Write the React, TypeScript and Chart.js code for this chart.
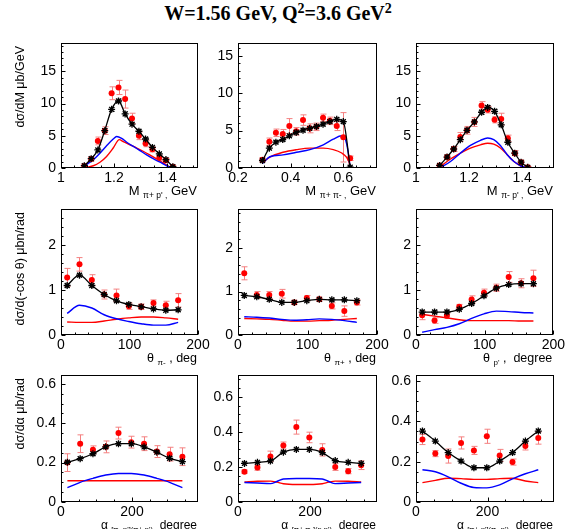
import React, { useEffect, useRef } from "react";
import { Chart, registerables } from "chart.js";
Chart.register(...registerables);

const W = 567;
const H = 529;

// ---------------- DATA ----------------
// Row 1: invariant mass distributions (GeV)
const p1Bins = [1.088, 1.114, 1.139, 1.165, 1.191, 1.217, 1.242, 1.268, 1.294, 1.319, 1.345, 1.371, 1.396, 1.422];
const p1Data = [0.3, 1.4, 4.2, 5.8, 11.6, 12.5, 10.7, 7.7, 5.0, 3.8, 2.9, 1.6, 1.2, 0.2];
const p1DataErr = [0.2, 0.3, 0.6, 0.6, 1.0, 1.1, 1.4, 0.8, 0.6, 0.5, 0.4, 0.4, 0.3, 0.1];
const p1Model = [0.36, 1.44, 2.8, 5.8, 9.1, 10.4, 8.4, 6.8, 5.7, 4.5, 3.2, 2.2, 1.3, 0.2];
const p1ModelErr = [0.1, 0.2, 0.2, 0.3, 0.3, 0.3, 0.3, 0.25, 0.25, 0.2, 0.2, 0.2, 0.15, 0.1];
const p1BlueX = [1.085, 1.122, 1.147, 1.172, 1.197, 1.21, 1.229, 1.248, 1.273, 1.298, 1.323, 1.348, 1.374, 1.399, 1.42];
const p1BlueY = [0.2, 1.3, 2.3, 3.45, 4.5, 4.9, 4.6, 4.0, 3.35, 2.7, 2.05, 1.45, 0.9, 0.35, 0];
const p1RedX = [1.085, 1.122, 1.147, 1.172, 1.197, 1.22, 1.235, 1.26, 1.286, 1.31, 1.336, 1.361, 1.386, 1.411, 1.42];
const p1RedY = [0, 0.35, 0.9, 1.8, 3.1, 4.4, 4.1, 3.6, 3.1, 2.6, 2.0, 1.4, 0.8, 0.15, 0];
const p1LineStart = [1.078, 0];

const p2Bins = [0.293, 0.319, 0.344, 0.37, 0.395, 0.421, 0.447, 0.472, 0.498, 0.523, 0.549, 0.575, 0.6, 0.626];
const p2Data = [1.1, 3.5, 4.7, 4.55, 5.6, 4.9, 6.4, 5.3, 5.5, 6.7, 6.3, 5.6, 4.1, 1.3];
const p2DataErr = [0.3, 0.5, 0.5, 0.6, 1.0, 0.5, 0.7, 0.6, 0.5, 0.5, 0.5, 0.6, 3.3, 0.3];
const p2Model = [1.0, 2.65, 3.45, 3.8, 4.3, 4.75, 5.05, 5.3, 5.55, 5.85, 6.2, 6.5, 6.2, 0.1];
const p2ModelErr = [0.15, 0.2, 0.2, 0.2, 0.2, 0.2, 0.2, 0.2, 0.2, 0.2, 0.2, 0.2, 0.2, 0.05];
const p2BlueX = [0.293, 0.321, 0.371, 0.422, 0.473, 0.524, 0.562, 0.594, 0.606, 0.619, 0.626];
const p2BlueY = [0.6, 1.5, 1.75, 2.1, 2.45, 3.1, 3.85, 4.3, 4.0, 2.0, 0];
const p2RedX = [0.293, 0.321, 0.371, 0.422, 0.473, 0.524, 0.562, 0.594, 0.612, 0.622, 0.626];
const p2RedY = [0.7, 1.45, 2.1, 2.45, 2.65, 2.65, 2.45, 2.0, 1.45, 0.75, 0];

const p3Bins = [1.089, 1.117, 1.142, 1.167, 1.192, 1.22, 1.247, 1.27, 1.296, 1.321, 1.346, 1.372, 1.396, 1.421];
const p3Data = [0.4, 1.7, 2.95, 4.8, 5.85, 7.15, 9.7, 9.05, 7.5, 7.6, 4.6, 2.3, 0.9, 0.1];
const p3DataErr = [0.2, 0.3, 0.4, 0.7, 0.6, 0.7, 0.6, 0.5, 0.5, 0.9, 0.5, 0.4, 0.3, 0.1];
const p3Model = [0.4, 1.7, 2.95, 4.4, 5.85, 7.15, 8.65, 9.4, 8.8, 6.7, 4.0, 2.3, 0.9, 0.1];
const p3ModelErr = [0.1, 0.2, 0.2, 0.25, 0.3, 0.3, 0.3, 0.3, 0.3, 0.3, 0.25, 0.2, 0.15, 0.05];
const p3CurveX = [1.09, 1.13, 1.167, 1.205, 1.243, 1.27, 1.293, 1.318, 1.343, 1.369, 1.394, 1.42];
const p3BlueY = [0, 1.0, 2.3, 3.5, 4.3, 4.65, 4.4, 3.5, 2.1, 1.0, 0.35, 0];
const p3RedY = [0.15, 1.4, 2.3, 3.1, 3.6, 3.85, 3.7, 3.1, 2.1, 1.0, 0.35, 0];
const p3LineStart = [1.078, 0];

// Row 2: polar angle distributions (deg)
const thetaBins = [9, 27, 45, 63, 81, 99, 117, 135, 153, 171];
const p4Data = [1.28, 1.57, 1.22, 0.9, 0.88, 0.64, 0.63, 0.71, 0.66, 0.77];
const p4DataErr = [0.2, 0.15, 0.12, 0.1, 0.14, 0.07, 0.06, 0.07, 0.09, 0.15];
const p4Model = [1.1, 1.33, 1.1, 0.9, 0.76, 0.68, 0.63, 0.58, 0.55, 0.56];
const p4Blue = [0.48, 0.66, 0.6, 0.45, 0.36, 0.3, 0.25, 0.22, 0.22, 0.28];
const p4Red = [0.29, 0.28, 0.28, 0.31, 0.35, 0.38, 0.4, 0.4, 0.38, 0.35];

const p5Data = [1.42, 0.92, 0.92, 0.95, 0.75, 0.85, 0.82, 0.67, 0.55, 0.75];
const p5DataErr = [0.15, 0.08, 0.08, 0.1, 0.05, 0.06, 0.05, 0.07, 0.12, 0.06];
const p5Model = [0.91, 0.88, 0.82, 0.75, 0.75, 0.79, 0.82, 0.81, 0.81, 0.79];
const p5Blue = [0.42, 0.41, 0.39, 0.36, 0.34, 0.35, 0.37, 0.36, 0.33, 0.29];
const p5Red = [0.38, 0.37, 0.36, 0.34, 0.32, 0.32, 0.33, 0.34, 0.36, 0.38];

const p6Data = [0.44, 0.32, 0.43, 0.63, 0.79, 0.94, 1.05, 1.29, 1.15, 1.26];
const p6DataErr = [0.1, 0.06, 0.06, 0.05, 0.08, 0.08, 0.08, 0.12, 0.1, 0.18];
const p6Model = [0.51, 0.51, 0.51, 0.57, 0.7, 0.87, 1.04, 1.12, 1.14, 1.14];
const p6Blue = [0.06, 0.12, 0.17, 0.25, 0.37, 0.47, 0.53, 0.52, 0.5, 0.49];
const p6Red = [0.46, 0.42, 0.38, 0.34, 0.32, 0.32, 0.32, 0.32, 0.31, 0.31];

const row2ModelErr = [0.04, 0.04, 0.04, 0.03, 0.03, 0.03, 0.03, 0.03, 0.03, 0.03];

// Row 3: alpha angle distributions (deg)
const alphaBins = [18, 54, 90, 126, 162, 198, 234, 270, 306, 342];
const p7Data = [0.2, 0.296, 0.265, 0.28, 0.35, 0.304, 0.296, 0.256, 0.243, 0.23];
const p7DataErr = [0.045, 0.045, 0.02, 0.03, 0.03, 0.03, 0.035, 0.03, 0.035, 0.045];
const p7Model = [0.202, 0.22, 0.245, 0.28, 0.296, 0.296, 0.28, 0.253, 0.222, 0.205];
const p7Blue = [0.073, 0.1, 0.12, 0.137, 0.145, 0.145, 0.137, 0.12, 0.1, 0.073];
const p7Red = [0.108, 0.108, 0.108, 0.108, 0.108, 0.108, 0.108, 0.108, 0.108, 0.108];

const p8Data = [0.173, 0.196, 0.26, 0.322, 0.427, 0.368, 0.297, 0.2, 0.176, 0.21];
const p8DataErr = [0.01, 0.015, 0.03, 0.02, 0.04, 0.03, 0.035, 0.02, 0.015, 0.025];
const p8Model = [0.22, 0.226, 0.234, 0.284, 0.3, 0.3, 0.282, 0.236, 0.226, 0.22];
const p8CurveX = [18, 54, 90, 108, 126, 162, 198, 234, 252, 270, 306, 342];
const p8Blue = [0.111, 0.108, 0.105, 0.117, 0.131, 0.134, 0.134, 0.131, 0.117, 0.105, 0.108, 0.111];
const p8Red = [0.114, 0.118, 0.119, 0.113, 0.104, 0.1, 0.1, 0.104, 0.113, 0.119, 0.118, 0.114];

const p9Data = [0.31, 0.24, 0.228, 0.293, 0.256, 0.326, 0.231, 0.198, 0.278, 0.317];
const p9DataErr = [0.025, 0.015, 0.035, 0.03, 0.02, 0.035, 0.03, 0.015, 0.02, 0.03];
const p9Model = [0.352, 0.302, 0.245, 0.203, 0.17, 0.17, 0.203, 0.245, 0.302, 0.352];
const p9Blue = [0.16, 0.15, 0.125, 0.093, 0.072, 0.07, 0.085, 0.115, 0.14, 0.16];
const p9Red = [0.096, 0.107, 0.118, 0.116, 0.112, 0.112, 0.116, 0.118, 0.104, 0.096];

const row3ModelErr = [0.008, 0.008, 0.008, 0.008, 0.008, 0.008, 0.008, 0.008, 0.008, 0.008];

// Tick labels
const massTicksP = [1.0, 1.2, 1.4];
const massTicksPiPi = [0.2, 0.4, 0.6];
const thetaTicks = [0, 100, 200];
const alphaTicks = [0, 200];
const yTicksMass = [0, 5, 10, 15];
const yTicksTheta = [0, 1, 2];
const yTicksAlpha = [0, 0.2, 0.4, 0.6];

// ---------------- LAYOUT ----------------
const COLS = [
  [61, 198],
  [238, 377],
  [416, 554],
];
const ROWS = [
  [43, 168],
  [209, 335],
  [375, 502],
];
const YW = 40;
const XH = 24;
const FONT = "'Liberation Sans', Arial, Helvetica, sans-serif";
const TITLE_SIZE = [13, 12.5, 12];
const SUB_SIZE = [8.5, 8, 7.5];

type Spec = {
  col: number;
  row: number;
  xr: [number, number];
  yr: [number, number];
  xTicks: number[];
  yTicks: number[];
  xMinor: number;
  yMinor: number;
  bins: number[];
  data: number[];
  dataErr: number[];
  model: number[];
  modelErr: number[];
  blueX: number[];
  blueY: number[];
  redX: number[];
  redY: number[];
  lineStart?: number[];
  yTitle?: string;
  xTitle: [string, string, string];
};

const SPECS: Spec[] = [
  {
    col: 0, row: 0, xr: [1.0, 1.517], yr: [0, 19.4], xTicks: massTicksP, yTicks: yTicksMass, xMinor: 0.05, yMinor: 1,
    bins: p1Bins, data: p1Data, dataErr: p1DataErr, model: p1Model, modelErr: p1ModelErr,
    blueX: p1BlueX, blueY: p1BlueY, redX: p1RedX, redY: p1RedY, lineStart: p1LineStart,
    yTitle: "dσ/dM μb/GeV", xTitle: ["M", "π+ p' ,", " GeV"],
  },
  {
    col: 1, row: 0, xr: [0.2, 0.728], yr: [0, 16.7], xTicks: massTicksPiPi, yTicks: yTicksMass, xMinor: 0.05, yMinor: 1,
    bins: p2Bins, data: p2Data, dataErr: p2DataErr, model: p2Model, modelErr: p2ModelErr,
    blueX: p2BlueX, blueY: p2BlueY, redX: p2RedX, redY: p2RedY,
    xTitle: ["M", "π+ π- ,", " GeV"],
  },
  {
    col: 2, row: 0, xr: [1.0, 1.52], yr: [0, 19.4], xTicks: massTicksP, yTicks: yTicksMass, xMinor: 0.05, yMinor: 1,
    bins: p3Bins, data: p3Data, dataErr: p3DataErr, model: p3Model, modelErr: p3ModelErr,
    blueX: p3CurveX, blueY: p3BlueY, redX: p3CurveX, redY: p3RedY, lineStart: p3LineStart,
    xTitle: ["M", "π- p' ,", " GeV"],
  },
  {
    col: 0, row: 1, xr: [0, 200], yr: [0, 2.8], xTicks: thetaTicks, yTicks: yTicksTheta, xMinor: 20, yMinor: 0.2,
    bins: thetaBins, data: p4Data, dataErr: p4DataErr, model: p4Model, modelErr: row2ModelErr,
    blueX: thetaBins, blueY: p4Blue, redX: thetaBins, redY: p4Red,
    yTitle: "dσ/d(-cos θ) μbn/rad", xTitle: ["θ", "π-", " , deg"],
  },
  {
    col: 1, row: 1, xr: [0, 200], yr: [0, 2.9], xTicks: thetaTicks, yTicks: yTicksTheta, xMinor: 20, yMinor: 0.2,
    bins: thetaBins, data: p5Data, dataErr: p5DataErr, model: p5Model, modelErr: row2ModelErr,
    blueX: thetaBins, blueY: p5Blue, redX: thetaBins, redY: p5Red,
    xTitle: ["θ", "π+", " , deg"],
  },
  {
    col: 2, row: 1, xr: [0, 200], yr: [0, 2.8], xTicks: thetaTicks, yTicks: yTicksTheta, xMinor: 20, yMinor: 0.2,
    bins: thetaBins, data: p6Data, dataErr: p6DataErr, model: p6Model, modelErr: row2ModelErr,
    blueX: thetaBins, blueY: p6Blue, redX: thetaBins, redY: p6Red,
    xTitle: ["θ", "p'", " ,  degree"],
  },
  {
    col: 0, row: 2, xr: [0, 386], yr: [0, 0.645], xTicks: alphaTicks, yTicks: yTicksAlpha, xMinor: 50, yMinor: 0.05,
    bins: alphaBins, data: p7Data, dataErr: p7DataErr, model: p7Model, modelErr: row3ModelErr,
    blueX: alphaBins, blueY: p7Blue, redX: alphaBins, redY: p7Red,
    yTitle: "dσ/dα μb/rad", xTitle: ["α", "[π- p'](π+ p')", "  degree"],
  },
  {
    col: 1, row: 2, xr: [0, 386], yr: [0, 0.724], xTicks: alphaTicks, yTicks: yTicksAlpha, xMinor: 50, yMinor: 0.05,
    bins: alphaBins, data: p8Data, dataErr: p8DataErr, model: p8Model, modelErr: row3ModelErr,
    blueX: p8CurveX, blueY: p8Blue, redX: p8CurveX, redY: p8Red,
    xTitle: ["α", "[π+ π-](p p')", "  degree"],
  },
  {
    col: 2, row: 2, xr: [0, 386], yr: [0, 0.63], xTicks: alphaTicks, yTicks: yTicksAlpha, xMinor: 50, yMinor: 0.05,
    bins: alphaBins, data: p9Data, dataErr: p9DataErr, model: p9Model, modelErr: row3ModelErr,
    blueX: alphaBins, blueY: p9Blue, redX: alphaBins, redY: p9Red,
    xTitle: ["α", "[π+ p'](π- p')", "  degree"],
  },
];

const pts = (xs: number[], ys: number[]) => xs.map((x, i) => ({ x, y: ys[i] }));

function isMajor(v: number, ticks: number[]) {
  return ticks.some((t) => Math.abs(t - v) < 1e-6);
}

function makeDeco(spec: Spec) {
  return {
    id: "deco",
    beforeDatasetsDraw(chart: any) {
      const { ctx, chartArea: a } = chart;
      const ys = chart.scales.y;
      ctx.save();
      ctx.beginPath();
      ctx.rect(a.left, a.top, a.right - a.left, a.bottom - a.top);
      ctx.clip();
      chart.data.datasets.forEach((ds: any, i: number) => {
        if (!ds.errs) return;
        const meta = chart.getDatasetMeta(i);
        ctx.strokeStyle = ds.errColor;
        ctx.lineWidth = 1;
        meta.data.forEach((el: any, j: number) => {
          const v = ds.data[j].y;
          const e = ds.errs[j];
          const px = Math.round(el.x) + 0.5;
          const y1 = ys.getPixelForValue(v - e);
          const y2 = ys.getPixelForValue(v + e);
          const c = ds.cap;
          ctx.beginPath();
          ctx.moveTo(px, y1);
          ctx.lineTo(px, y2);
          ctx.moveTo(px - c, y1);
          ctx.lineTo(px + c, y1);
          ctx.moveTo(px - c, y2);
          ctx.lineTo(px + c, y2);
          ctx.stroke();
        });
      });
      ctx.restore();
    },
    afterDatasetsDraw(chart: any) {
      const { ctx, chartArea: a } = chart;
      const xs = chart.scales.x;
      const ys = chart.scales.y;
      ctx.save();
      ctx.strokeStyle = "#000";
      ctx.lineWidth = 1;
      const L = Math.round(a.left) + 0.5;
      const R = Math.round(a.right) - 0.5;
      const T = Math.round(a.top) + 0.5;
      const B = Math.round(a.bottom) - 0.5;
      ctx.strokeRect(L, T, R - L, B - T);
      ctx.beginPath();
      const x0 = Math.ceil(spec.xr[0] / spec.xMinor - 1e-6) * spec.xMinor;
      for (let k = 0; k < 100; k++) {
        const v = x0 + k * spec.xMinor;
        if (v > spec.xr[1] + 1e-9) break;
        const p = Math.round(xs.getPixelForValue(v)) + 0.5;
        ctx.moveTo(p, B);
        ctx.lineTo(p, B - (isMajor(v, spec.xTicks) ? 4 : 2));
      }
      for (let k = 0; k < 100; k++) {
        const v = spec.yr[0] + k * spec.yMinor;
        if (v > spec.yr[1] + 1e-9) break;
        const p = Math.round(ys.getPixelForValue(v)) + 0.5;
        ctx.moveTo(L, p);
        ctx.lineTo(L + (isMajor(v, spec.yTicks) ? 4 : 2), p);
      }
      ctx.stroke();

      // axis titles
      ctx.fillStyle = "#000";
      if (spec.yTitle) {
        ctx.save();
        ctx.translate(21, a.top + 3);
        ctx.rotate(-Math.PI / 2);
        ctx.font = `12.5px ${FONT}`;
        ctx.textAlign = "right";
        ctx.textBaseline = "middle";
        ctx.fillText(spec.yTitle, 0, 0);
        ctx.restore();
      }
      const [main, sub, suf] = spec.xTitle;
      const ts = TITLE_SIZE[spec.row];
      const ss = SUB_SIZE[spec.row];
      const base = a.bottom + 27;
      ctx.textBaseline = "alphabetic";
      ctx.textAlign = "left";
      ctx.font = `${ts}px ${FONT}`;
      const wSuf = ctx.measureText(suf).width;
      const wMain = ctx.measureText(main + " ").width;
      ctx.font = `${ss}px ${FONT}`;
      const wSub = ctx.measureText(sub).width;
      let x = a.right - 1 - wSuf - wSub - wMain;
      ctx.font = `${ts}px ${FONT}`;
      ctx.fillText(main, x, base);
      x += wMain;
      ctx.font = `${ss}px ${FONT}`;
      ctx.fillText(sub, x, base + 3);
      x += wSub;
      ctx.font = `${ts}px ${FONT}`;
      ctx.fillText(suf, x, base);
      ctx.restore();
    },
  };
}

function buildConfig(spec: Spec): any {
  const [l, r] = COLS[spec.col];
  const [t, b] = ROWS[spec.row];
  const lineData = spec.lineStart
    ? [{ x: spec.lineStart[0], y: spec.lineStart[1] }, ...pts(spec.bins, spec.model)]
    : pts(spec.bins, spec.model);
  const fmt = (v: any) => String(Number(Number(v).toFixed(3)));
  const tickFont = { family: FONT, size: 14 };
  return {
    type: "scatter",
    data: {
      datasets: [
        {
          label: "model points",
          data: pts(spec.bins, spec.model),
          pointStyle: "star",
          pointRadius: 3.5,
          borderColor: "#000",
          backgroundColor: "#000",
          borderWidth: 1.3,
          errs: spec.modelErr,
          errColor: "#808080",
          cap: 2.5,
          order: 0,
        },
        {
          label: "model line",
          data: lineData,
          showLine: true,
          pointRadius: 0,
          borderColor: "#000",
          borderWidth: 1.3,
          cubicInterpolationMode: "monotone",
          order: 1,
        },
        {
          label: "data",
          data: pts(spec.bins, spec.data),
          pointStyle: "circle",
          pointRadius: 3,
          borderWidth: 0,
          backgroundColor: "#ff0000",
          borderColor: "#ff0000",
          errs: spec.dataErr,
          errColor: "#f48080",
          cap: 3,
          order: 2,
        },
        {
          label: "blue",
          data: pts(spec.blueX, spec.blueY),
          showLine: true,
          pointRadius: 0,
          borderColor: "#0000ff",
          borderWidth: 1.4,
          cubicInterpolationMode: "monotone",
          order: 3,
        },
        {
          label: "red",
          data: pts(spec.redX, spec.redY),
          showLine: true,
          pointRadius: 0,
          borderColor: "#ff0000",
          borderWidth: 1.4,
          cubicInterpolationMode: "monotone",
          order: 4,
        },
      ],
    },
    options: {
      responsive: false,
      animation: false,
      events: [],
      layout: {
        padding: { left: l - YW, right: W - r, top: t, bottom: H - b - XH },
      },
      plugins: { legend: { display: false }, tooltip: { enabled: false }, title: { display: false } },
      scales: {
        x: {
          type: "linear",
          min: spec.xr[0],
          max: spec.xr[1],
          afterFit: (s: any) => {
            s.height = XH;
          },
          afterBuildTicks: (s: any) => {
            s.ticks = spec.xTicks.map((v) => ({ value: v }));
          },
          grid: { display: false, drawTicks: false },
          border: { display: false },
          ticks: {
            autoSkip: false,
            maxRotation: 0,
            padding: 2,
            color: "#000",
            font: tickFont,
            callback: fmt,
          },
        },
        y: {
          type: "linear",
          min: spec.yr[0],
          max: spec.yr[1],
          afterFit: (s: any) => {
            s.width = YW;
          },
          afterBuildTicks: (s: any) => {
            s.ticks = spec.yTicks.map((v) => ({ value: v }));
          },
          grid: { display: false, drawTicks: false },
          border: { display: false },
          ticks: {
            autoSkip: false,
            padding: 5,
            color: "#000",
            font: tickFont,
            callback: fmt,
          },
        },
      },
    },
    plugins: [makeDeco(spec)],
  };
}

function Panel({ spec }: { spec: Spec }) {
  const ref = useRef<HTMLCanvasElement>(null);
  useEffect(() => {
    if (!ref.current) return;
    const chart = new Chart(ref.current, buildConfig(spec));
    return () => chart.destroy();
  }, [spec]);
  return (
    <canvas
      ref={ref}
      width={W}
      height={H}
      style={{ position: "absolute", left: 0, top: 0, width: W, height: H }}
    />
  );
}

export default function App() {
  useEffect(() => {
    document.body.style.margin = "0";
  }, []);
  const supStyle: React.CSSProperties = { fontSize: 14, verticalAlign: 7, lineHeight: 0 };
  return (
    <div style={{ position: "relative", width: W, height: H, overflow: "hidden", background: "#fff" }}>
      <div
        style={{
          position: "absolute",
          left: 0,
          top: 2,
          width: 556,
          textAlign: "center",
          fontFamily: "'Liberation Serif', 'Times New Roman', serif",
          fontWeight: "bold",
          fontSize: 20,
          lineHeight: "22px",
          color: "#000",
        }}
      >
        W=1.56 GeV, Q<sup style={supStyle}>2</sup>=3.6 GeV<sup style={supStyle}>2</sup>
      </div>
      {SPECS.map((s, i) => (
        <Panel key={i} spec={s} />
      ))}
    </div>
  );
}
